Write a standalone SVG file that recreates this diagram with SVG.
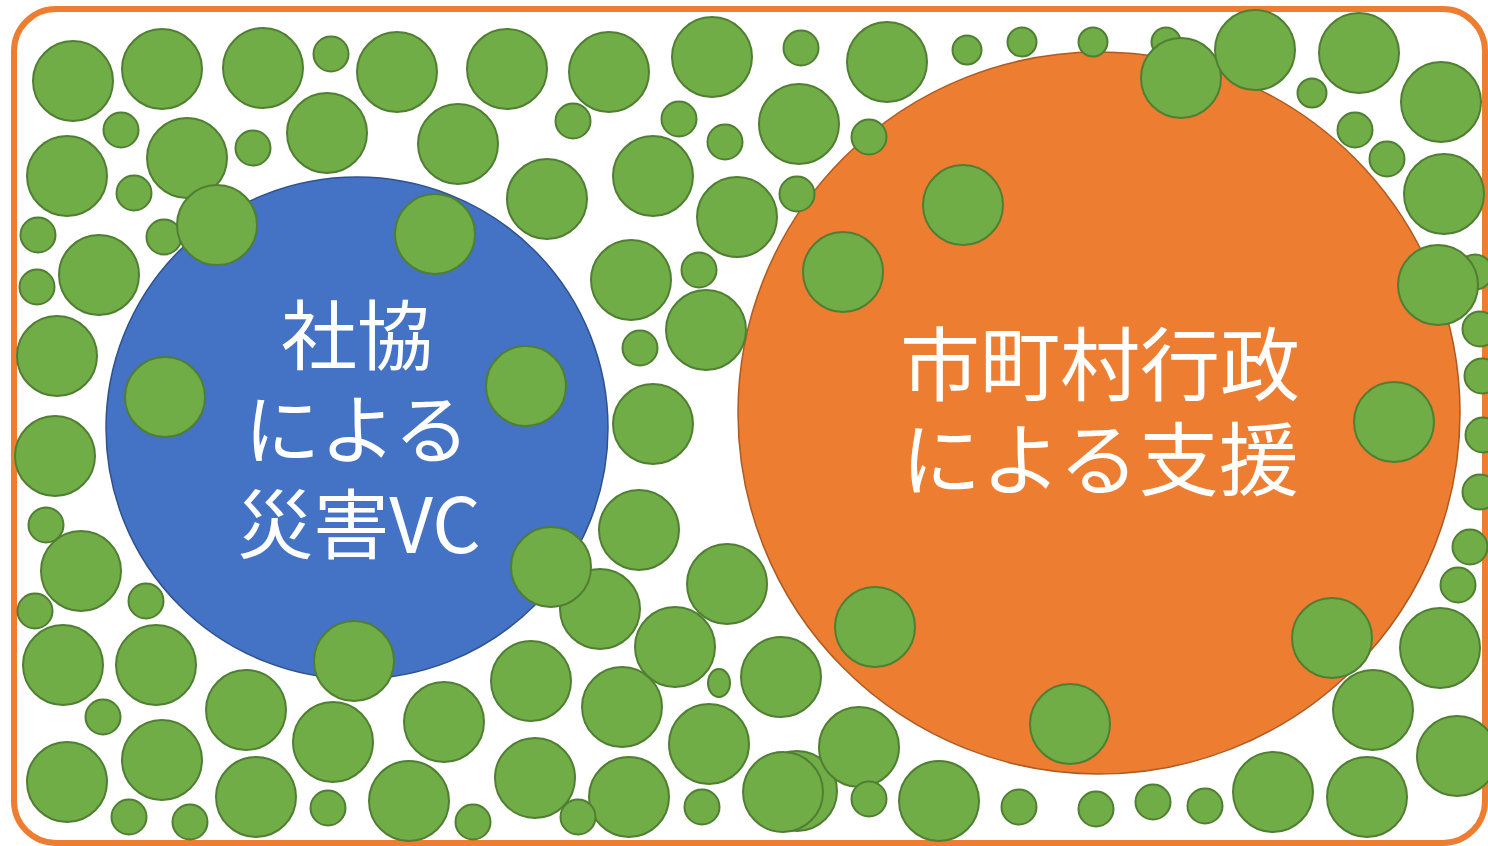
<svg xmlns="http://www.w3.org/2000/svg" width="1488" height="846" viewBox="0 0 1488 846">
<style>
.g{fill:#70AD47;stroke:#507E32;stroke-width:2}
.t{fill:#FFFFFF;font-family:"Noto Sans CJK JP","Noto Sans",sans-serif;font-size:80px;text-anchor:middle}
.tb{font-size:76px}
</style>
<rect width="1488" height="846" fill="#FFFFFF"/>
<rect id="frame" x="14" y="9" width="1471" height="834" rx="42" ry="42" fill="none" stroke="#ED7D31" stroke-width="6"/>
<g id="node-shakyo">
<circle cx="357" cy="428" r="251" fill="#4472C4" stroke="#2F528F" stroke-width="1.5"/>
</g>
<g id="node-shichoson">
<circle cx="1099" cy="413" r="361" fill="#ED7D31" stroke="#AE5A21" stroke-width="1.5"/>
</g>
<g id="green-back">
<circle class="g" cx="164" cy="237" r="17.5"/>
<circle class="g" cx="1475" cy="272" r="17.5"/>
<circle class="g" cx="1166" cy="42" r="14.5"/>
<circle class="g" cx="797" cy="791" r="40"/>
<circle class="g" cx="600" cy="609" r="40"/>
</g>
<g id="green-big">
<circle class="g" cx="73" cy="81" r="40"/>
<circle class="g" cx="162" cy="69" r="40"/>
<circle class="g" cx="263" cy="68" r="40"/>
<circle class="g" cx="397" cy="72" r="40"/>
<circle class="g" cx="507" cy="69" r="40"/>
<circle class="g" cx="609" cy="72" r="40"/>
<circle class="g" cx="712" cy="57" r="40"/>
<circle class="g" cx="887" cy="62" r="40"/>
<circle class="g" cx="1181" cy="78" r="40"/>
<circle class="g" cx="1255" cy="50" r="40"/>
<circle class="g" cx="1359" cy="53" r="40"/>
<circle class="g" cx="1441" cy="102" r="40"/>
<circle class="g" cx="1444" cy="194" r="40"/>
<circle class="g" cx="67" cy="176" r="40"/>
<circle class="g" cx="187" cy="158" r="40"/>
<circle class="g" cx="327" cy="133" r="40"/>
<circle class="g" cx="458" cy="144" r="40"/>
<circle class="g" cx="547" cy="199" r="40"/>
<circle class="g" cx="653" cy="176" r="40"/>
<circle class="g" cx="737" cy="217" r="40"/>
<circle class="g" cx="799" cy="124" r="40"/>
<circle class="g" cx="963" cy="205" r="40"/>
<circle class="g" cx="843" cy="272" r="40"/>
<circle class="g" cx="217" cy="225" r="40"/>
<circle class="g" cx="435" cy="234" r="40"/>
<circle class="g" cx="99" cy="275" r="40"/>
<circle class="g" cx="57" cy="356" r="40"/>
<circle class="g" cx="55" cy="456" r="40"/>
<circle class="g" cx="165" cy="397" r="40"/>
<circle class="g" cx="526" cy="386" r="40"/>
<circle class="g" cx="631" cy="280" r="40"/>
<circle class="g" cx="706" cy="330" r="40"/>
<circle class="g" cx="653" cy="424" r="40"/>
<circle class="g" cx="639" cy="530" r="40"/>
<circle class="g" cx="1394" cy="422" r="40"/>
<circle class="g" cx="1438" cy="285" r="40"/>
<circle class="g" cx="81" cy="571" r="40"/>
<circle class="g" cx="63" cy="665" r="40"/>
<circle class="g" cx="156" cy="665" r="40"/>
<circle class="g" cx="246" cy="710" r="40"/>
<circle class="g" cx="354" cy="661" r="40"/>
<circle class="g" cx="333" cy="742" r="40"/>
<circle class="g" cx="67" cy="782" r="40"/>
<circle class="g" cx="162" cy="760" r="40"/>
<circle class="g" cx="256" cy="797" r="40"/>
<circle class="g" cx="551" cy="567" r="40"/>
<circle class="g" cx="727" cy="584" r="40"/>
<circle class="g" cx="675" cy="647" r="40"/>
<circle class="g" cx="531" cy="681" r="40"/>
<circle class="g" cx="622" cy="707" r="40"/>
<circle class="g" cx="444" cy="722" r="40"/>
<circle class="g" cx="709" cy="744" r="40"/>
<circle class="g" cx="409" cy="801" r="40"/>
<circle class="g" cx="535" cy="778" r="40"/>
<circle class="g" cx="629" cy="797" r="40"/>
<circle class="g" cx="875" cy="627" r="40"/>
<circle class="g" cx="1070" cy="724" r="40"/>
<circle class="g" cx="781" cy="677" r="40"/>
<circle class="g" cx="859" cy="747" r="40"/>
<circle class="g" cx="783" cy="792" r="40"/>
<circle class="g" cx="939" cy="801" r="40"/>
<circle class="g" cx="1440" cy="648" r="40"/>
<circle class="g" cx="1332" cy="638" r="40"/>
<circle class="g" cx="1373" cy="710" r="40"/>
<circle class="g" cx="1457" cy="756" r="40"/>
<circle class="g" cx="1273" cy="792" r="40"/>
<circle class="g" cx="1367" cy="797" r="40"/>
</g>
<g id="green-small">
<circle class="g" cx="331" cy="54" r="17.5"/>
<circle class="g" cx="121" cy="130" r="17.5"/>
<circle class="g" cx="253" cy="148" r="17.5"/>
<circle class="g" cx="134" cy="193" r="17.5"/>
<circle class="g" cx="38" cy="235" r="17.5"/>
<circle class="g" cx="37" cy="287" r="17.5"/>
<circle class="g" cx="573" cy="121" r="17.5"/>
<circle class="g" cx="679" cy="119" r="17.5"/>
<circle class="g" cx="725" cy="142" r="17.5"/>
<circle class="g" cx="699" cy="270" r="17.5"/>
<circle class="g" cx="801" cy="48" r="17.5"/>
<circle class="g" cx="869" cy="137" r="17.5"/>
<circle class="g" cx="797" cy="194" r="17.5"/>
<circle class="g" cx="1355" cy="130" r="17.5"/>
<circle class="g" cx="1387" cy="159" r="17.5"/>
<circle class="g" cx="640" cy="348" r="17.5"/>
<circle class="g" cx="46" cy="525" r="17.5"/>
<circle class="g" cx="35" cy="611" r="17.5"/>
<circle class="g" cx="146" cy="601" r="17.5"/>
<circle class="g" cx="103" cy="717" r="17.5"/>
<circle class="g" cx="129" cy="817" r="17.5"/>
<circle class="g" cx="190" cy="822" r="17.5"/>
<circle class="g" cx="328" cy="808" r="17.5"/>
<circle class="g" cx="473" cy="822" r="17.5"/>
<circle class="g" cx="578" cy="817" r="17.5"/>
<circle class="g" cx="702" cy="807" r="17.5"/>
<circle class="g" cx="869" cy="799" r="17.5"/>
<circle class="g" cx="1019" cy="807" r="17.5"/>
<circle class="g" cx="1096" cy="809" r="17.5"/>
<circle class="g" cx="1153" cy="802" r="17.5"/>
<circle class="g" cx="1205" cy="806" r="17.5"/>
<circle class="g" cx="1458" cy="585" r="17.5"/>
<circle class="g" cx="1470" cy="547" r="17.5"/>
<circle class="g" cx="1480" cy="492" r="17.5"/>
<circle class="g" cx="1483" cy="435" r="17.5"/>
<circle class="g" cx="1482" cy="376" r="17.5"/>
<circle class="g" cx="1480" cy="329" r="17.5"/>
<circle class="g" cx="967" cy="50" r="14.5"/>
<circle class="g" cx="1022" cy="42" r="14.5"/>
<circle class="g" cx="1093" cy="42" r="14.5"/>
<circle class="g" cx="1312" cy="93" r="14.5"/>
<ellipse class="g" cx="719" cy="683" rx="11" ry="14"/>
</g>
<g id="labels">
<text class="t tb" x="357" y="364">社協</text>
<text class="t tb" x="357" y="458">による</text>
<text class="t tb" x="359" y="553">災害VC</text>
<text class="t" x="1100" y="394">市町村行政</text>
<text class="t" x="1100" y="489">による支援</text>
</g>
</svg>
